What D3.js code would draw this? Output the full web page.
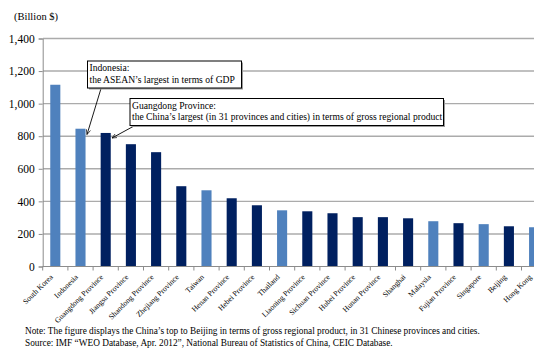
<!DOCTYPE html>
<html>
<head>
<meta charset="utf-8">
<script src="https://cdn.jsdelivr.net/npm/d3@7"></script>
<style>
  html, body { margin: 0; padding: 0; background: #fff; }
  svg { display: block; overflow: hidden; }
  text { font-family: "Liberation Serif", "Times New Roman", serif; fill: #000; }
</style>
</head>
<body>
<svg id="chart" width="534" height="349"></svg>
<script>
// Economies and Chinese provinces ranked by 2011 GDP / gross regional product (billion US$)
const categories = [
  "South Korea", "Indonesia", "Guangdong Province", "Jiangsu Province", "Shandong Province",
  "Zhejiang Province", "Taiwan", "Henan Province", "Hebei Province", "Thailand",
  "Liaoning Province", "Sichuan Province", "Hubei Province", "Hunan Province", "Shanghai",
  "Malaysia", "Fujian Province", "Singapore", "Beijing", "Hong  Kong"
];
const values = [
  1116, 846, 820, 751, 702,
  493, 468, 419, 376, 345,
  339, 327, 303, 303, 296,
  278, 266, 260, 247, 241
];
// "country" = economy outside mainland China, "province" = Chinese province / municipality
const kinds = [
  "country", "country", "province", "province", "province",
  "province", "country", "province", "province", "country",
  "province", "province", "province", "province", "province",
  "country", "province", "country", "province", "country"
];
const yTicks = [0, 200, 400, 600, 800, 1000, 1200, 1400];
const yUnit = "(Billion $)";
const notes = [
  "Note: The figure displays the China\u2019s top to Beijing in terms of gross regional product, in 31 Chinese provinces and cities.",
  "Source: IMF \u201cWEO Database, Apr. 2012\u201d, National Bureau of Statistics of China, CEIC Database."
];
const callouts = [
  { target: "Indonesia", lines: ["Indonesia:", "the ASEAN\u2019s largest in terms of GDP"] },
  { target: "Guangdong Province", lines: ["Guangdong Province:", "the China\u2019s largest (in 31 provinces and cities) in terms of gross regional product"] }
];

const colors = { country: "#4F81BD", province: "#002060" };
const serif = "'Liberation Serif', 'Times New Roman', serif";

const svg = d3.select("#chart");

const x = d3.scaleBand()
  .domain(categories)
  .range([42.7, 546.7])
  .paddingInner(0.6)
  .paddingOuter(0.3);

const y = d3.scaleLinear().domain([0, 1400]).range([266.5, 38.5]);

// horizontal gridlines
svg.append("g")
  .selectAll("line")
  .data(yTicks.filter(d => d > 0))
  .join("line")
  .attr("x1", 43).attr("x2", 560)
  .attr("y1", d => y(d)).attr("y2", d => y(d))
  .attr("stroke", "#ABABAB").attr("stroke-width", 1.4);

// y axis
const yAxis = svg.append("g")
  .attr("transform", "translate(42.7,0)")
  .call(d3.axisLeft(y).tickValues(yTicks).tickSize(4).tickPadding(4).tickFormat(d3.format(",")));
yAxis.attr("font-family", null);
yAxis.select(".domain").attr("stroke", "#8C8C8C");
yAxis.selectAll(".tick line").attr("stroke", "#8C8C8C");
yAxis.selectAll(".tick text")
  .style("font-family", serif)
  .style("font-size", "11.5px")
  .attr("fill", "#000");

svg.append("text")
  .attr("x", 14).attr("y", 20)
  .style("font-size", "10.5px")
  .text(yUnit);

// bars
svg.append("g")
  .selectAll("rect")
  .data(categories)
  .join("rect")
  .attr("x", d => x(d))
  .attr("width", x.bandwidth())
  .attr("y", (d, i) => y(values[i]))
  .attr("height", (d, i) => y(0) - y(values[i]))
  .attr("fill", (d, i) => colors[kinds[i]]);

// x axis with ticks on category boundaries
const step = x.step();
const x0 = 42.7;
const xg = svg.append("g");
xg.append("line")
  .attr("x1", x0).attr("x2", 560)
  .attr("y1", y(0)).attr("y2", y(0))
  .attr("stroke", "#8C8C8C").attr("stroke-width", 1);
xg.selectAll("line.tk")
  .data(d3.range(categories.length + 1))
  .join("line")
  .attr("class", "tk")
  .attr("x1", i => x0 + i * step).attr("x2", i => x0 + i * step)
  .attr("y1", y(0)).attr("y2", y(0) + 4)
  .attr("stroke", "#8C8C8C");

xg.selectAll("text.lbl")
  .data(categories)
  .join("text")
  .attr("class", "lbl")
  .attr("text-anchor", "end")
  .attr("transform", d => `translate(${x(d) + x.bandwidth() / 2 - 2},${y(0) + 11}) rotate(-45)`)
  .style("font-size", "7.7px")
  .text(d => d);

// callout boxes with arrows
const boxes = [
  { x: 87.5, y: 61, w: 154, h: 27, tx: 101, ty: 88.5, ax: 87, ay: 134.5 },
  { x: 130, y: 98.5, w: 313.5, h: 27, tx: 134, ty: 126, ax: 112, ay: 138 }
];
svg.append("defs").append("marker")
  .attr("id", "arrowhead")
  .attr("viewBox", "0 0 10 10")
  .attr("refX", 9).attr("refY", 5)
  .attr("markerWidth", 6).attr("markerHeight", 6)
  .attr("orient", "auto")
  .append("path")
  .attr("d", "M0,1 L9,5 L0,9")
  .attr("fill", "none").attr("stroke", "#000").attr("stroke-width", 1.2);

callouts.forEach((c, k) => {
  const b = boxes[k];
  const g = svg.append("g");
  g.append("line")
    .attr("x1", b.tx).attr("y1", b.ty)
    .attr("x2", b.ax).attr("y2", b.ay)
    .attr("stroke", "#000").attr("stroke-width", 0.9)
    .attr("marker-end", "url(#arrowhead)");
  g.append("rect")
    .attr("x", b.x + 1.5).attr("y", b.y + 1.5)
    .attr("width", b.w).attr("height", b.h)
    .attr("fill", "#9a9a9a");
  g.append("rect")
    .attr("x", b.x).attr("y", b.y)
    .attr("width", b.w).attr("height", b.h)
    .attr("fill", "#fff").attr("stroke", "#000").attr("stroke-width", 1);
  c.lines.forEach((t, j) => {
    g.append("text")
      .attr("x", b.x + 2).attr("y", b.y + 10 + j * 11.5)
      .style("font-size", "9.6px")
      .text(t);
  });
});

// footnotes
notes.forEach((t, i) => {
  svg.append("text")
    .attr("x", 25).attr("y", 334 + i * 11.5)
    .style("font-size", "9.3px")
    .text(t);
});
</script>
</body>
</html>
